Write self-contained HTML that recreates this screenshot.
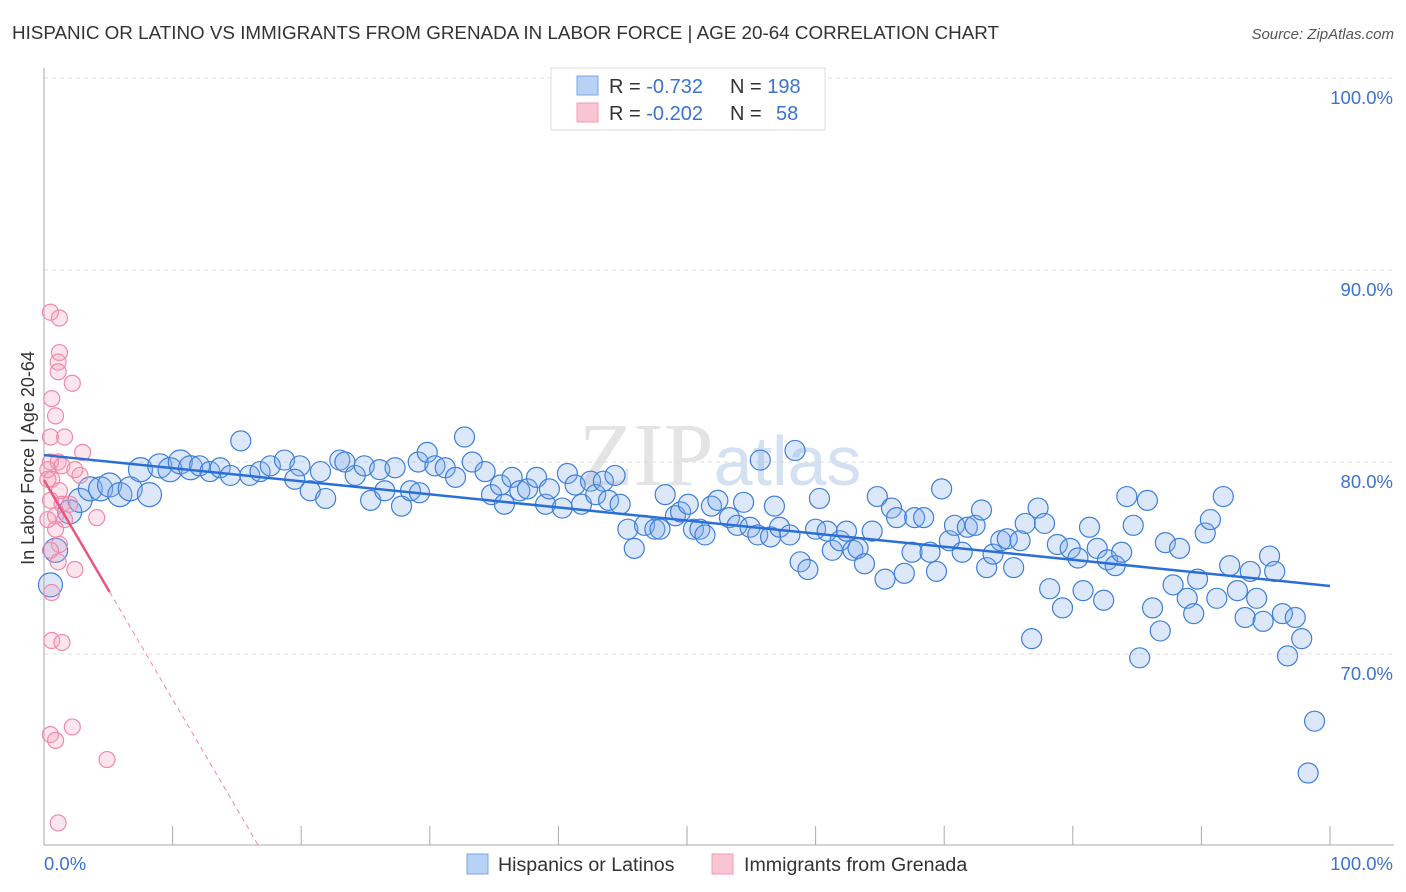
<!DOCTYPE html>
<html><head><meta charset="utf-8"><style>
body{margin:0;background:#fff;font-family:"Liberation Sans",sans-serif;}
#wrap{position:relative;width:1406px;height:892px;overflow:hidden;}
</style></head><body>
<div id="wrap">
<svg id="svg" width="1406" height="892" xmlns="http://www.w3.org/2000/svg">
<text x="12" y="39" font-size="18" fill="#333" textLength="987" lengthAdjust="spacingAndGlyphs">HISPANIC OR LATINO VS IMMIGRANTS FROM GRENADA IN LABOR FORCE | AGE 20-64 CORRELATION CHART</text>
<text x="1394" y="39" font-size="15" fill="#555" font-style="italic" text-anchor="end">Source: ZipAtlas.com</text>
<text x="720" y="485" font-size="90" fill="#e4e4e4" text-anchor="middle" font-family="Liberation Serif">ZIP<tspan fill="#d3e1f3" font-family="Liberation Sans" font-size="70">atlas</tspan></text>
<g id="grid"></g>
<g id="axes"></g>
<g id="pts"></g>
<g id="lines"></g>
<text transform="translate(34,458) rotate(-90)" font-size="18" fill="#333" text-anchor="middle">In Labor Force | Age 20-64</text>
<g>
<rect x="551" y="68" width="274" height="62" fill="#fff" stroke="#ddd"/>
<rect x="577" y="76" width="21" height="19" fill="#b8d2f5" stroke="#7aa7e4"/>
<rect x="577" y="103" width="21" height="19" fill="#f9c5d3" stroke="#f09ab2"/>
<text x="609" y="93" font-size="20" fill="#333">R = <tspan fill="#3a73d0">-0.732</tspan><tspan x="730">N = </tspan><tspan fill="#3a73d0">198</tspan></text>
<text x="609" y="120" font-size="20" fill="#333">R = <tspan fill="#3a73d0">-0.202</tspan><tspan x="730">N = </tspan><tspan fill="#3a73d0" x="776">58</tspan></text>
</g>
<g>
<rect x="467" y="854" width="21" height="20" fill="#b8d2f5" stroke="#7aa7e4"/>
<text x="498" y="871" font-size="19.6" fill="#333">Hispanics or Latinos</text>
<rect x="712" y="854" width="21" height="20" fill="#f9c5d3" stroke="#f09ab2"/>
<text x="744" y="871" font-size="19.6" fill="#333">Immigrants from Grenada</text>
</g>
</svg>
</div>
<script>
const yTicks=[70,80,90,100];
const yTickLabels=["70.0%","80.0%","90.0%","100.0%"];
const xTickVals=[0,10,20,30,40,50,60,70,80,90,100];
const blueX=[0.5,0.9,2.0,2.8,3.6,4.4,5.1,5.9,6.7,7.5,8.2,9.0,9.8,10.6,11.4,12.1,12.9,13.7,14.5,15.3,16.0,16.8,17.6,18.7,19.9,19.5,20.7,21.5,21.9,23.0,23.4,24.2,24.9,25.4,26.1,26.5,27.3,27.8,28.5,29.2,29.1,29.8,30.4,31.2,32.0,32.7,33.3,34.3,34.8,35.5,35.8,36.4,37.0,37.6,38.3,39.0,39.3,40.3,40.7,41.3,41.8,42.5,42.9,43.5,43.9,44.4,44.8,45.4,45.9,46.7,47.5,47.9,48.3,49.1,49.5,50.1,50.5,51.0,51.4,51.9,52.4,53.3,53.9,54.4,54.9,55.5,55.7,56.5,56.8,57.2,58.0,58.4,58.8,59.4,60.0,60.3,60.9,61.3,61.9,62.4,62.9,63.3,63.8,64.4,64.8,65.4,65.9,66.3,66.9,67.5,67.7,68.4,68.9,69.4,69.8,70.4,70.8,71.4,71.8,72.4,72.9,73.3,73.8,74.4,74.9,75.4,75.9,76.3,76.8,77.3,77.8,78.2,78.8,79.2,79.8,80.4,80.8,81.3,81.9,82.4,82.7,83.3,83.8,84.2,84.7,85.2,85.8,86.2,86.8,87.2,87.8,88.3,88.9,89.4,89.7,90.3,90.7,91.2,91.7,92.2,92.8,93.4,93.8,94.3,94.8,95.3,95.7,96.3,96.7,97.3,97.8,98.3,98.8];
const blueY=[73.6,75.4,77.4,78.0,78.6,78.6,78.8,78.3,78.6,79.6,78.3,79.8,79.6,80.0,79.7,79.8,79.5,79.7,79.3,81.1,79.3,79.5,79.8,80.1,79.8,79.1,78.5,79.5,78.1,80.1,80.0,79.3,79.8,78.0,79.6,78.5,79.7,77.7,78.5,78.4,80.0,80.5,79.8,79.7,79.2,81.3,80.0,79.5,78.3,78.8,77.8,79.2,78.5,78.6,79.2,77.8,78.6,77.6,79.4,78.8,77.8,79.0,78.3,79.0,78.0,79.3,77.8,76.5,75.5,76.7,76.5,76.5,78.3,77.2,77.4,77.8,76.5,76.5,76.2,77.7,78.0,77.1,76.7,77.9,76.6,76.2,80.1,76.1,77.7,76.6,76.2,80.6,74.8,74.4,76.5,78.1,76.4,75.4,75.9,76.4,75.4,75.5,74.7,76.4,78.2,73.9,77.6,77.1,74.2,75.3,77.1,77.1,75.3,74.3,78.6,75.9,76.7,75.3,76.6,76.7,77.5,74.5,75.2,75.9,76.0,74.5,75.9,76.8,70.8,77.6,76.8,73.4,75.7,72.4,75.5,75.0,73.3,76.6,75.5,72.8,74.9,74.6,75.3,78.2,76.7,69.8,78.0,72.4,71.2,75.8,73.6,75.5,72.9,72.1,73.9,76.3,77.0,72.9,78.2,74.6,73.3,71.9,74.3,72.9,71.7,75.1,74.3,72.1,69.9,71.9,70.8,63.8,66.5];
const pinkX=[0.5,1.2,1.2,1.1,1.1,2.2,0.6,0.9,0.5,1.6,3.0,0.5,1.1,0.3,1.4,2.4,2.8,0.6,1.2,0.5,1.4,2.0,0.9,1.6,4.1,0.9,1.2,0.5,1.1,2.4,0.6,0.6,1.4,0.5,0.9,2.2,4.9,1.1,0.3,0.3];
const pinkY=[87.8,87.5,85.7,85.2,84.7,84.1,83.3,82.4,81.3,81.3,80.5,80.0,80.0,79.6,79.8,79.6,79.3,79.1,78.5,78.0,77.8,77.8,77.2,77.0,77.1,76.5,75.7,75.4,74.8,74.4,73.2,70.7,70.6,65.8,65.5,66.2,64.5,61.2,79.1,77.0];
const blueTrend=[80.36,73.54];
const pinkTrend=[79.06,-1.142];
const pinkSolidEnd=5.1;

const X0=44,X1=1330,Y0=845,YMIN=60.05;
const sx=v=>X0+(X1-X0)*v/100;
const sy=v=>Y0-(Y0-78)*(v-YMIN)/(100-YMIN);
const NS="http://www.w3.org/2000/svg";
function mk(tag,attrs,parent){const e=document.createElementNS(NS,tag);for(const k in attrs)e.setAttribute(k,attrs[k]);parent.appendChild(e);return e;}
const grid=document.getElementById('grid'),axes=document.getElementById('axes'),pts=document.getElementById('pts'),lines=document.getElementById('lines');
yTicks.forEach((t,i)=>{
 const l=mk('line',{x1:X0,x2:1394,y1:sy(t),y2:sy(t),stroke:'#ddd','stroke-dasharray':'4,4'},grid);
 
 
 const tx=mk('text',{x:1393,y:sy(t)+26,'font-size':18.5,fill:'#3a73d0','text-anchor':'end'},axes);
 tx.textContent=yTickLabels[i];
 
 
});
const ya=mk('line',{x1:X0,x2:X0,y1:68,y2:Y0,stroke:'#aaa'},axes);


const xa=mk('line',{x1:X0,x2:1394,y1:Y0,y2:Y0,stroke:'#aaa'},axes);


xTickVals.forEach(t=>{
 const l=mk('line',{x1:sx(t),x2:sx(t),y1:826,y2:Y0,stroke:'#aaa'},axes);
 
 
});
const xl0=mk('text',{x:44,y:870,'font-size':18.5,fill:'#3a73d0'},axes);xl0.textContent='0.0%';


const xl1=mk('text',{x:1393,y:870,'font-size':18.5,fill:'#3a73d0','text-anchor':'end'},axes);xl1.textContent='100.0%';


blueX.forEach((v,i)=>{
 const r=v<12?12:10;
 const c=mk('circle',{cx:sx(v),cy:sy(blueY[i]),r:r,fill:'rgba(130,172,238,0.28)',stroke:'#3d7fd9','stroke-width':1.2},pts);
 
 
});
pinkX.forEach((v,i)=>{
 const c=mk('circle',{cx:sx(v),cy:sy(pinkY[i]),r:8,fill:'rgba(245,160,185,0.28)',stroke:'#f08aa8','stroke-width':1.2},pts);
 
 
});
const bl=mk('line',{x1:sx(0),y1:sy(blueTrend[0]),x2:sx(100),y2:sy(blueTrend[1]),stroke:'#2a6fd6','stroke-width':2.5},lines);


const pEnd=(YMIN-pinkTrend[0])/pinkTrend[1];
const ps=mk('line',{x1:sx(0),y1:sy(pinkTrend[0]),x2:sx(pinkSolidEnd),y2:sy(pinkTrend[0]+pinkTrend[1]*pinkSolidEnd),stroke:'#e8567f','stroke-width':2.5},lines);


const pd=mk('line',{x1:sx(pinkSolidEnd),y1:sy(pinkTrend[0]+pinkTrend[1]*pinkSolidEnd),x2:sx(pEnd),y2:sy(YMIN),stroke:'#eb8aa5','stroke-width':1,'stroke-dasharray':'5,4'},lines);


</script>
</body></html>
